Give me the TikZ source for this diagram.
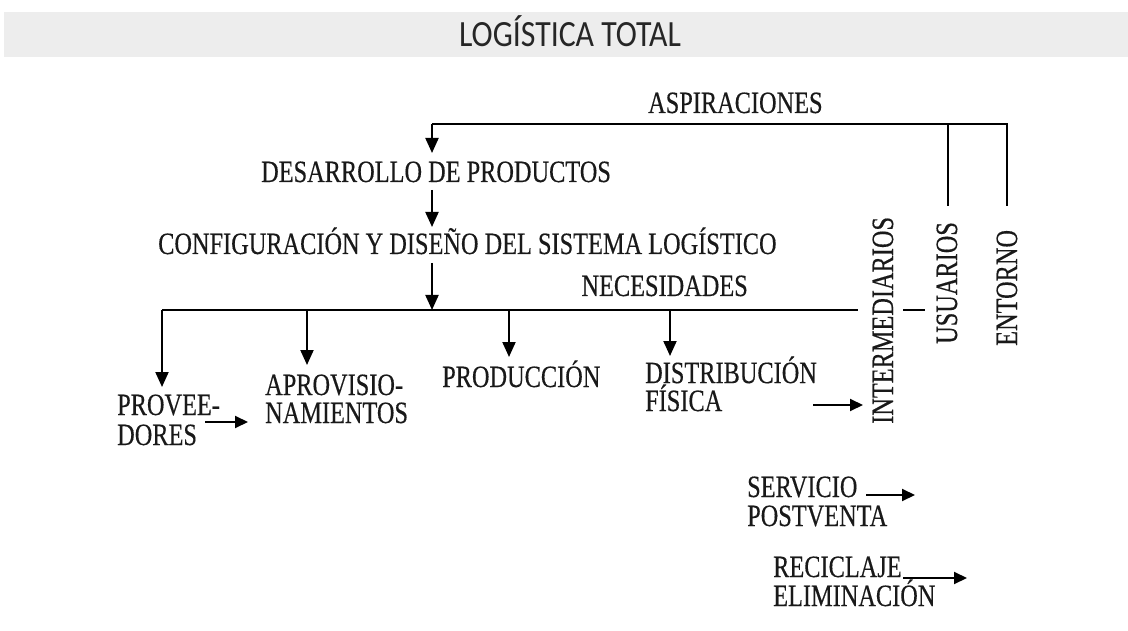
\documentclass[tikz,border=0pt]{standalone}
\usepackage{fontspec}
\setmainfont[FakeStretch=0.785,FakeBold=0.35]{Liberation Serif}
\newfontfamily\titlefont[FakeStretch=0.86]{Carlito}
\usetikzlibrary{arrows.meta}
\tikzset{
  lbl/.style={inner sep=0pt, font=\fontsize{31}{31}\selectfont, text=black!90, align=left},
  conn/.style={line width=2pt, draw=black},
  arr/.style={conn, -{Triangle[length=15pt,width=13pt]}},
  sarr/.style={conn, -{Triangle[length=13pt,width=12pt]}}
}
\begin{document}
\begin{tikzpicture}[x=1pt,y=-1pt]
\useasboundingbox (0,0) rectangle (1128,631);
\fill[black!7] (4,12) rectangle (1128,57);
\node[inner sep=0pt, anchor=base, font=\titlefont\fontsize{37}{37}\selectfont, text=black!85] (title) at (570,47) {LOGÍSTICA TOTAL};

% labels (multi-line: anchor base = baseline of last line)
\node[lbl, anchor=base west] (asp) at (648,113) {ASPIRACIONES};
\node[lbl, anchor=base west] (des) at (261,182) {DESARROLLO DE PRODUCTOS};
\node[lbl, anchor=base west] (conf) at (158,254) {CONFIGURACIÓN Y DISEÑO DEL SISTEMA LOGÍSTICO};
\node[lbl, anchor=base east] (nec) at (748,296) {NECESIDADES};
\node[lbl, anchor=base west, rotate=90] (inter) at (893,424) {INTERMEDIARIOS};
\node[lbl, anchor=base west, rotate=90] (usu) at (957,344) {USUARIOS};
\node[lbl, anchor=base west, rotate=90] (ent) at (1017,346) {ENTORNO};
\node[lbl, anchor=base west, font=\fontsize{31}{30}\selectfont] (prov) at (117,445) {PROVEE-\\DORES};
\node[lbl, anchor=base west, font=\fontsize{31}{28}\selectfont] (apro) at (265,423) {APROVISIO-\\NAMIENTOS};
\node[lbl, anchor=base west] (prod) at (442,387) {PRODUCCIÓN};
\node[lbl, anchor=base west, font=\fontsize{31}{26}\selectfont] (dist) at (645,411) {DISTRIBUCIÓN\\FÍSICA};
\node[lbl, anchor=base west, font=\fontsize{31}{29}\selectfont] (serv) at (747,526) {SERVICIO\\POSTVENTA};
\node[lbl, anchor=base west, font=\fontsize{31}{29}\selectfont] (rec) at (773,606) {RECICLAJE\\ELIMINACIÓN};

% junction coordinates
\coordinate (aL) at (432,124);
\coordinate (aU) at (948,124);
\coordinate (aE) at (1007,124);
\coordinate (uEnd) at (948,206);
\coordinate (eEnd) at (1007,206);
\coordinate (dTip) at (432,153);
\coordinate (d2s) at (432,190);
\coordinate (d2t) at (432,227);
\coordinate (c2s) at (432,263);
\coordinate (nL) at (162,310);
\coordinate (nC) at (432,310);
\coordinate (nR) at (858,310);
\coordinate (dashL) at (903,310);
\coordinate (dashR) at (925,310);
\coordinate (n1) at (307,310);
\coordinate (n2) at (509,310);
\coordinate (n3) at (670,310);
\coordinate (t0) at (162,387);
\coordinate (t1) at (307,365);
\coordinate (t2) at (509,357);
\coordinate (t3) at (670,356);
\coordinate (pA) at (205,422);
\coordinate (pB) at (248,422);
\coordinate (dA) at (813,405);
\coordinate (dB) at (863,405);
\coordinate (sA) at (866,495);
\coordinate (sB) at (915,495);
\coordinate (rA) at (903,578);
\coordinate (rB) at (967,578);

% top aspiraciones loop
\draw[conn] (uEnd) -- (aU);
\draw[conn] (eEnd) -- (aE) -- (aL);
\draw[arr] (aL) -- (dTip);
\draw[arr] (d2s) -- (d2t);
\draw[arr] (c2s) -- (nC);

% necesidades line
\draw[conn] (nL) -- (nR);
\draw[conn] (dashL) -- (dashR);
\draw[arr] (nL) -- (t0);
\draw[arr] (n1) -- (t1);
\draw[arr] (n2) -- (t2);
\draw[arr] (n3) -- (t3);

% horizontal arrows
\draw[sarr] (pA) -- (pB);
\draw[sarr] (dA) -- (dB);
\draw[sarr] (sA) -- (sB);
\draw[sarr] (rA) -- (rB);
\end{tikzpicture}
\end{document}
